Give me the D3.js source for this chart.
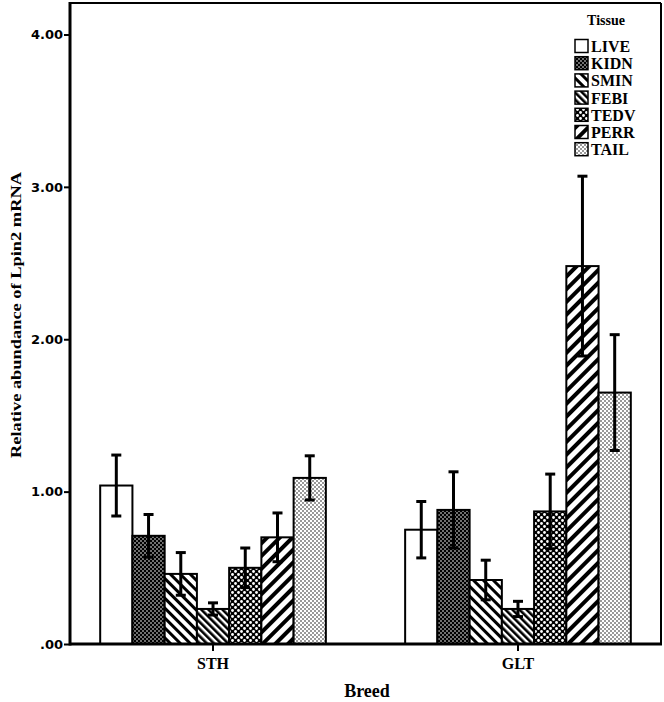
<!DOCTYPE html>
<html><head><meta charset="utf-8">
<script src="https://cdn.jsdelivr.net/npm/d3@7"></script>
<style>body{margin:0;background:#fff}svg{display:block}</style>
</head><body>
<script>
const breeds = ["STH", "GLT"];
const tissues = ["LIVE", "KIDN", "SMIN", "FEBI", "TEDV", "PERR", "TAIL"];
const meanSTH = [1.04, 0.71, 0.46, 0.23, 0.50, 0.70, 1.09];
const errSTH  = [0.20, 0.14, 0.14, 0.04, 0.13, 0.16, 0.145];
const meanGLT = [0.75, 0.88, 0.42, 0.23, 0.87, 2.48, 1.65];
const errGLT  = [0.185, 0.25, 0.13, 0.05, 0.245, 0.59, 0.38];
const yTicks = [0, 1, 2, 3, 4];

(function () {
const W = 664, H = 702;
const pL = 70, pR = 661, pT = 3, pB = 644;
const svg = d3.select("body").append("svg").attr("width", W).attr("height", H);
const defs = svg.append("defs");

function stripes(id, size, sw, rot) {
  const p = defs.append("pattern").attr("id", id).attr("patternUnits", "userSpaceOnUse")
    .attr("width", size).attr("height", size).attr("patternTransform", `rotate(${rot})`);
  p.append("rect").attr("width", size).attr("height", size).attr("fill", "#fff");
  p.append("rect").attr("x", 0).attr("y", 0).attr("width", sw).attr("height", size).attr("fill", "#000");
}
function dots(id, size, bg, fg, r) {
  const p = defs.append("pattern").attr("id", id).attr("patternUnits", "userSpaceOnUse")
    .attr("width", size).attr("height", size);
  p.append("rect").attr("width", size).attr("height", size).attr("fill", bg);
  p.append("circle").attr("cx", size / 4).attr("cy", size / 4).attr("r", r).attr("fill", fg);
  p.append("circle").attr("cx", size * 3 / 4).attr("cy", size * 3 / 4).attr("r", r).attr("fill", fg);
}
dots("pKIDN", 4, "#000", "#fff", 0.8);
stripes("pSMIN", 7, 3, -45);
stripes("pFEBI", 5, 2.6, -45);
dots("pTEDV", 6, "#000", "#fff", 1.4);
stripes("pPERR", 9, 4, 45);
dots("pTAIL", 4, "#fff", "#000", 0.75);
const fills = ["#fff", "url(#pKIDN)", "url(#pSMIN)", "url(#pFEBI)", "url(#pTEDV)", "url(#pPERR)", "url(#pTAIL)"];

const x0 = d3.scaleBand().domain(breeds).range([pL, pR]).paddingInner(0.26).paddingOuter(0.099);
const x1 = d3.scaleBand().domain(tissues).range([0, x0.bandwidth()]);
const y = d3.scaleLinear().domain([0, 4.2]).range([pB, pT + 1]);

const data = [];
breeds.forEach((b, bi) => {
  const m = bi === 0 ? meanSTH : meanGLT, e = bi === 0 ? errSTH : errGLT;
  tissues.forEach((t, ti) => data.push({ b, t, ti, v: m[ti], e: e[ti] }));
});

// frame
svg.append("line").attr("x1", pL).attr("x2", pR).attr("y1", pT).attr("y2", pT).attr("stroke", "#000").attr("stroke-width", 2);
svg.append("line").attr("x1", pR).attr("x2", pR).attr("y1", pT).attr("y2", pB).attr("stroke", "#000").attr("stroke-width", 2);

// bars
svg.append("g").selectAll("rect").data(data).join("rect")
  .attr("x", d => x0(d.b) + x1(d.t))
  .attr("y", d => y(d.v))
  .attr("width", x1.bandwidth())
  .attr("height", d => pB - y(d.v))
  .attr("fill", d => fills[d.ti])
  .attr("stroke", "#000").attr("stroke-width", 2);

// error bars
const eg = svg.append("g").attr("stroke", "#000").attr("stroke-width", 3);
data.forEach(d => {
  const cx = x0(d.b) + x1(d.t) + x1.bandwidth() / 2;
  eg.append("line").attr("x1", cx).attr("x2", cx).attr("y1", y(d.v + d.e)).attr("y2", y(d.v - d.e));
  eg.append("line").attr("x1", cx - 5).attr("x2", cx + 5).attr("y1", y(d.v + d.e)).attr("y2", y(d.v + d.e));
  eg.append("line").attr("x1", cx - 5).attr("x2", cx + 5).attr("y1", y(d.v - d.e)).attr("y2", y(d.v - d.e));
});

// y axis
const ya = svg.append("g").attr("transform", `translate(${pL},0)`)
  .call(d3.axisLeft(y).tickValues(yTicks).tickSize(6).tickFormat(d => d === 0 ? ".00" : d3.format(".2f")(d)));
ya.select(".domain").remove();
ya.selectAll(".tick line").attr("stroke-width", 2);
ya.selectAll(".tick text").attr("font-family", "DejaVu Sans").attr("font-weight", "bold").attr("font-size", 13).attr("fill", "#000").attr("x", -7);
svg.append("line").attr("x1", pL).attr("x2", pL).attr("y1", pT - 1).attr("y2", pB + 1.5).attr("stroke", "#000").attr("stroke-width", 3);

// x axis
const xa = svg.append("g").attr("transform", `translate(0,${pB})`)
  .call(d3.axisBottom(x0).tickSize(7).tickSizeOuter(0));
xa.select(".domain").remove();
xa.selectAll(".tick line").attr("stroke-width", 2);
xa.selectAll(".tick text").attr("font-family", "Liberation Serif").attr("font-weight", "bold").attr("font-size", 16).attr("fill", "#000").attr("dy", "0.95em");
svg.append("line").attr("x1", pL).attr("x2", pR + 1).attr("y1", pB).attr("y2", pB).attr("stroke", "#000").attr("stroke-width", 3);

// titles
svg.append("text").attr("x", 367).attr("y", 697).attr("text-anchor", "middle")
  .attr("font-family", "Liberation Serif").attr("font-weight", "bold").attr("font-size", 18).text("Breed");
svg.append("text").attr("transform", "translate(21,315) rotate(-90)").attr("text-anchor", "middle")
  .attr("font-family", "Liberation Serif").attr("font-weight", "bold").attr("font-size", 15)
  .attr("textLength", 286).attr("lengthAdjust", "spacingAndGlyphs")
  .text("Relative abundance of Lpin2 mRNA");

// legend
const lg = svg.append("g");
lg.append("text").attr("x", 606).attr("y", 25).attr("text-anchor", "middle")
  .attr("font-family", "Liberation Serif").attr("font-weight", "bold").attr("font-size", 14).text("Tissue");
tissues.forEach((t, i) => {
  const cy = 46 + i * 17.2;
  lg.append("rect").attr("x", 575).attr("y", cy - 6.5).attr("width", 13).attr("height", 13)
    .attr("fill", fills[i]).attr("stroke", "#000").attr("stroke-width", 1.5);
  lg.append("text").attr("x", 591).attr("y", cy + 6)
    .attr("font-family", "Liberation Serif").attr("font-weight", "bold").attr("font-size", 16).text(t);
});
})();
</script>
</body></html>
